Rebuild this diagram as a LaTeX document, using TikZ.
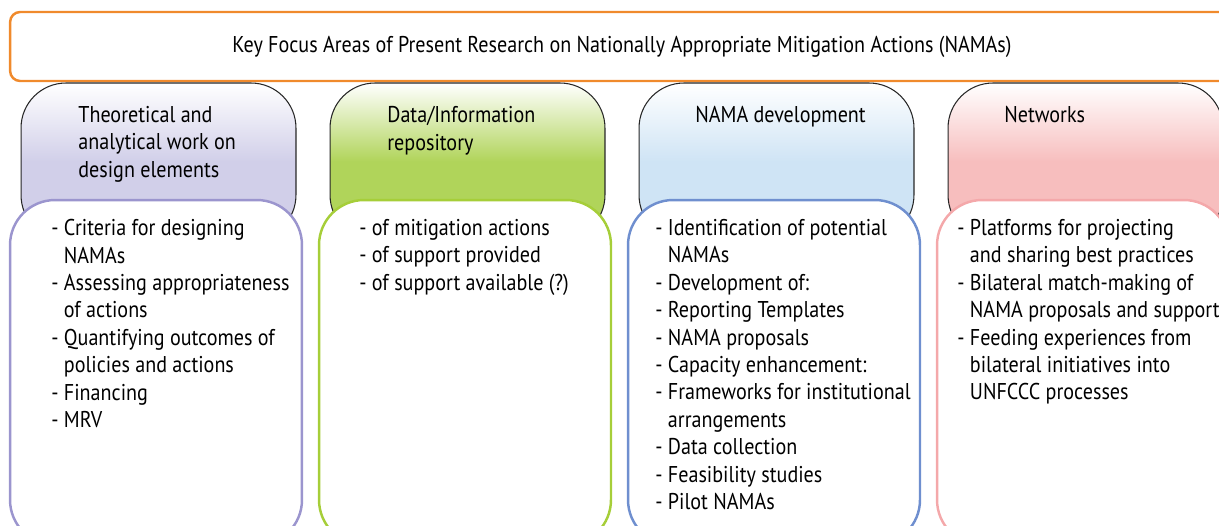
\documentclass[tikz,border=0pt]{standalone}
\usepackage{fontspec}
\setmainfont{PT Sans}[FakeStretch=0.88]
\definecolor{titleorange}{RGB}{240,138,44}
\definecolor{theorylav}{RGB}{209,207,233}
\definecolor{theoryline}{RGB}{155,149,206}
\definecolor{datagreen}{RGB}{176,212,90}
\definecolor{dataline}{RGB}{166,206,57}
\definecolor{namablue}{RGB}{207,228,245}
\definecolor{namaline}{RGB}{111,143,207}
\definecolor{netpink}{RGB}{247,190,190}
\definecolor{netline}{RGB}{244,168,170}
\newcommand{\cont}{\hphantom{- }}

\begin{document}
\begin{tikzpicture}[x=0.02cm,y=-0.02cm,
    headbox/.style={draw=black!85,line width=0.6pt,rounded corners=0.9cm,minimum width=5.5cm,minimum height=3.14cm,top color=white},
    listbox/.style={draw,fill=white,line width=1.4pt,rounded corners=0.9cm,minimum width=5.84cm,minimum height=6.9cm},
    itemtext/.style={anchor=north west,align=left,inner sep=0pt,font=\fontsize{13}{15.6}\selectfont}]
    \useasboundingbox (0,0) rectangle (1219,526);
    \clip (0,0) rectangle (1219,526);

    % title bar
    \node[draw=titleorange,line width=1.4pt,rounded corners=0.2cm,minimum width=25cm,minimum height=1.38cm] (titlebox) at (635,46.5) {};
    \node[anchor=base,inner sep=0pt,font=\fontsize{13}{15.6}\selectfont] (title) at (622,53) {Key Focus Areas of Present Research on Nationally Appropriate Mitigation Actions (NAMAs)};

    % column heads
    \node[headbox,bottom color=theorylav,middle color=theorylav] (theoryhead) at (158.5,161.5) {};
    \node[headbox,bottom color=datagreen,middle color=datagreen] (datahead) at (467.5,161.5) {};
    \node[headbox,bottom color=namablue,middle color=namablue] (namahead) at (776.5,161.5) {};
    \node[headbox,bottom color=netpink,middle color=netpink] (nethead) at (1085.5,161.5) {};

    \node[itemtext] (theorytitle) at (78,106) {Theoretical and\\analytical work on\\design elements};
    \node[itemtext] (datatitle) at (387,106) {Data/Information\\repository};
    \node[itemtext] (namatitle) at (695,106) {NAMA development};
    \node[itemtext] (nettitle) at (1004,106) {Networks};

    % lists
    \node[listbox,draw=theoryline] (theorylist) at (156,372.5) {};
    \node[listbox,draw=dataline] (datalist) at (465,372.5) {};
    \node[listbox,draw=namaline] (namalist) at (774,372.5) {};
    \node[listbox,draw=netline] (netlist) at (1083,372.5) {};

    \node[itemtext] (theoryitems) at (51,219) {- Criteria for designing\\\cont NAMAs\\- Assessing appropriateness\\\cont of actions\\- Quantifying outcomes of\\\cont policies and actions\\- Financing\\- MRV};
    \node[itemtext] (dataitems) at (359,219) {- of mitigation actions\\- of support provided\\- of support available (?)};
    \node[itemtext] (namaitems) at (655,219) {- Identification of potential\\\cont NAMAs\\- Development of:\\- Reporting Templates\\- NAMA proposals\\- Capacity enhancement:\\- Frameworks for institutional\\\cont arrangements\\- Data collection\\- Feasibility studies\\- Pilot NAMAs};
    \node[itemtext] (netitems) at (957,219) {- Platforms for projecting\\\cont and sharing best practices\\- Bilateral match-making of\\\cont NAMA proposals and support\\- Feeding experiences from\\\cont bilateral initiatives into\\\cont UNFCCC processes};
\end{tikzpicture}
\end{document}
